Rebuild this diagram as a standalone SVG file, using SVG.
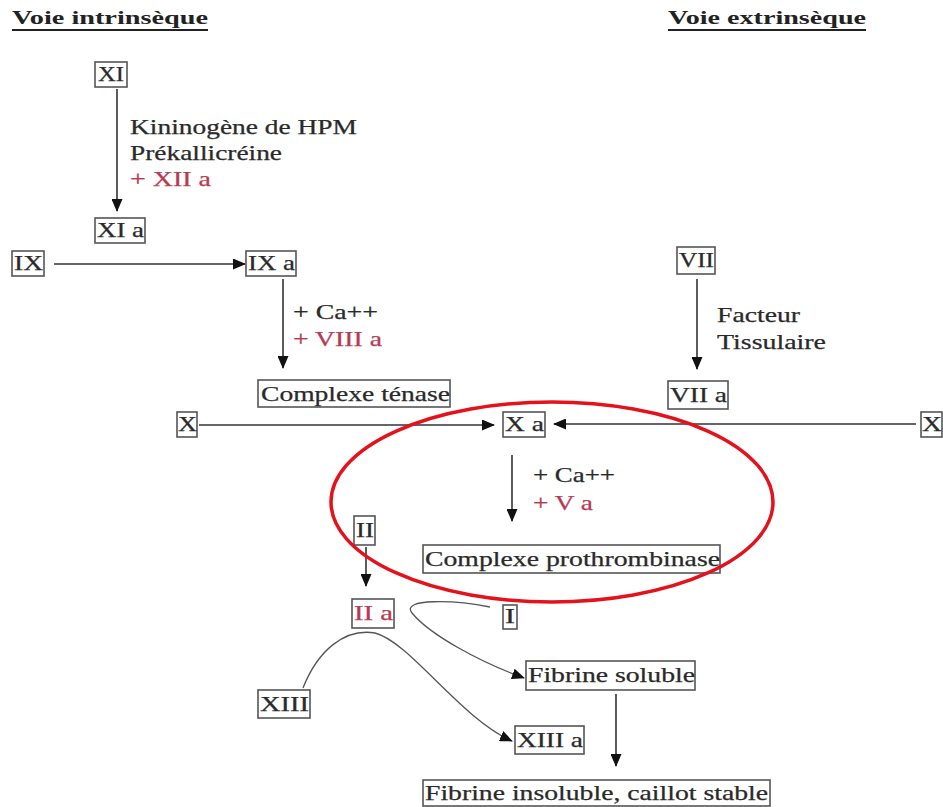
<svg xmlns="http://www.w3.org/2000/svg" width="943" height="807" viewBox="0 0 943 807">
<defs>
<marker id="ah" markerWidth="13" markerHeight="11" refX="12" refY="5.5" orient="auto" markerUnits="userSpaceOnUse">
<path d="M0,0 L13,5.5 L0,11 Z" fill="#111"/>
</marker>
<style>
.t{font-family:"Liberation Serif","Times New Roman",serif;font-size:21px;fill:#2a2a2a;stroke:#2a2a2a;stroke-width:0.25}
.r{fill:#b83a52;stroke:#b83a52}
.h{font-family:"Liberation Serif","Times New Roman",serif;font-size:19px;font-weight:bold;fill:#222}
.b{fill:none;stroke:#555;stroke-width:1.6}
.c{fill:none;stroke:#333;stroke-width:1.6}
.cv{fill:none;stroke:#555;stroke-width:1.3}
</style>
</defs>
<rect width="943" height="807" fill="#fff"/>

<g id="titles">
<text class="h" x="12" y="24" textLength="196" lengthAdjust="spacingAndGlyphs">Voie intrinsèque</text>
<line x1="12" y1="30" x2="208" y2="30" stroke="#222" stroke-width="2"/>
<text class="h" x="668" y="24" textLength="198" lengthAdjust="spacingAndGlyphs">Voie extrinsèque</text>
<line x1="668" y1="30" x2="866" y2="30" stroke="#222" stroke-width="2"/>
</g>

<g id="connectors">
<line class="c" x1="117" y1="89" x2="117" y2="211" marker-end="url(#ah)"/>
<line class="c" x1="54" y1="264" x2="245" y2="264" marker-end="url(#ah)"/>
<line class="c" x1="283" y1="279" x2="283" y2="368" marker-end="url(#ah)"/>
<line class="c" x1="697" y1="279" x2="697" y2="369" marker-end="url(#ah)"/>
<line class="c" x1="199" y1="425" x2="494" y2="425" marker-end="url(#ah)"/>
<line class="c" x1="916" y1="424" x2="554" y2="424" marker-end="url(#ah)"/>
<line class="c" x1="512" y1="455" x2="512" y2="521" marker-end="url(#ah)"/>
<line class="c" x1="366" y1="547" x2="366" y2="586" marker-end="url(#ah)"/>
<path class="cv" d="M490,607 C455,600 400,598 412,613 C430,635 480,662 524,678" marker-end="url(#ah)"/>
<path class="cv" d="M303,688 C318,650 345,628 375,633 C410,642 460,718 512,741" marker-end="url(#ah)"/>
<line class="c" x1="616" y1="694" x2="616" y2="766" marker-end="url(#ah)"/>
</g>

<g id="labels">
<text class="t" x="130" y="134" textLength="227" lengthAdjust="spacingAndGlyphs">Kininogène de HPM</text>
<text class="t" x="130" y="160" textLength="152" lengthAdjust="spacingAndGlyphs">Prékallicréine</text>
<text class="t r" x="130" y="186" textLength="81" lengthAdjust="spacingAndGlyphs">+ XII a</text>
<text class="t" x="293" y="319" textLength="85" lengthAdjust="spacingAndGlyphs">+ Ca++</text>
<text class="t r" x="293" y="346" textLength="89" lengthAdjust="spacingAndGlyphs">+ VIII a</text>
<text class="t" x="717" y="322" textLength="83" lengthAdjust="spacingAndGlyphs">Facteur</text>
<text class="t" x="717" y="349" textLength="109" lengthAdjust="spacingAndGlyphs">Tissulaire</text>
<text class="t" x="533" y="482" textLength="82" lengthAdjust="spacingAndGlyphs">+ Ca++</text>
<text class="t r" x="533" y="510" textLength="60" lengthAdjust="spacingAndGlyphs">+ V a</text>
</g>

<g id="n-XI"><rect class="b" x="95" y="62" width="32" height="25"/><text class="t" x="98" y="81" textLength="26" lengthAdjust="spacingAndGlyphs">XI</text></g>
<g id="n-XIa"><rect class="b" x="95" y="218" width="50" height="25"/><text class="t" x="97" y="237" textLength="47" lengthAdjust="spacingAndGlyphs">XI a</text></g>
<g id="n-IX"><rect class="b" x="12" y="251" width="32" height="25"/><text class="t" x="14" y="270" textLength="29" lengthAdjust="spacingAndGlyphs">IX</text></g>
<g id="n-IXa"><rect class="b" x="246" y="251" width="50" height="25"/><text class="t" x="248" y="270" textLength="47" lengthAdjust="spacingAndGlyphs">IX a</text></g>
<g id="n-tenase"><rect class="b" x="258" y="380" width="192" height="27"/><text class="t" x="261" y="401" textLength="189" lengthAdjust="spacingAndGlyphs">Complexe ténase</text></g>
<g id="n-X-left"><rect class="b" x="177" y="412" width="20" height="25"/><text class="t" x="178" y="431" textLength="19" lengthAdjust="spacingAndGlyphs">X</text></g>
<g id="n-Xa"><rect class="b" x="503" y="412" width="42" height="25"/><text class="t" x="505" y="431" textLength="39" lengthAdjust="spacingAndGlyphs">X a</text></g>
<g id="n-X-right"><rect class="b" x="921" y="412" width="21" height="25"/><text class="t" x="922" y="431" textLength="20" lengthAdjust="spacingAndGlyphs">X</text></g>
<g id="n-VII"><rect class="b" x="677" y="247" width="38" height="27"/><text class="t" x="679" y="267" textLength="35" lengthAdjust="spacingAndGlyphs">VII</text></g>
<g id="n-VIIa"><rect class="b" x="668" y="381" width="60" height="28"/><text class="t" x="670" y="402" textLength="57" lengthAdjust="spacingAndGlyphs">VII a</text></g>
<g id="n-II"><rect class="b" x="354" y="516" width="21" height="29"/><text class="t" x="356" y="537" textLength="18" lengthAdjust="spacingAndGlyphs">II</text></g>
<g id="n-prothrombinase"><rect class="b" x="423" y="545" width="297" height="28"/><text class="t" x="425" y="566" textLength="295" lengthAdjust="spacingAndGlyphs">Complexe prothrombinase</text></g>
<g id="n-IIa"><rect class="b" x="352" y="599" width="42" height="29"/><text class="t r" x="354" y="620" textLength="39" lengthAdjust="spacingAndGlyphs">II a</text></g>
<g id="n-I"><rect class="b" x="503" y="605" width="14" height="24"/><text class="t" x="505" y="623" textLength="10" lengthAdjust="spacingAndGlyphs">I</text></g>
<g id="n-fibrine-soluble"><rect class="b" x="526" y="661" width="169" height="29"/><text class="t" x="528" y="682" textLength="167" lengthAdjust="spacingAndGlyphs">Fibrine soluble</text></g>
<g id="n-XIII"><rect class="b" x="258" y="690" width="52" height="28"/><text class="t" x="260" y="711" textLength="49" lengthAdjust="spacingAndGlyphs">XIII</text></g>
<g id="n-XIIIa"><rect class="b" x="515" y="726" width="69" height="28"/><text class="t" x="517" y="747" textLength="66" lengthAdjust="spacingAndGlyphs">XIII a</text></g>
<g id="n-fibrine-insoluble"><rect class="b" x="423" y="780" width="347" height="26"/><text class="t" x="425" y="800" textLength="343" lengthAdjust="spacingAndGlyphs">Fibrine insoluble, caillot stable</text></g>

<g id="highlight">
<ellipse cx="552" cy="502" rx="221" ry="100" fill="none" stroke="#e3121c" stroke-width="3.5"/>
</g>
</svg>
